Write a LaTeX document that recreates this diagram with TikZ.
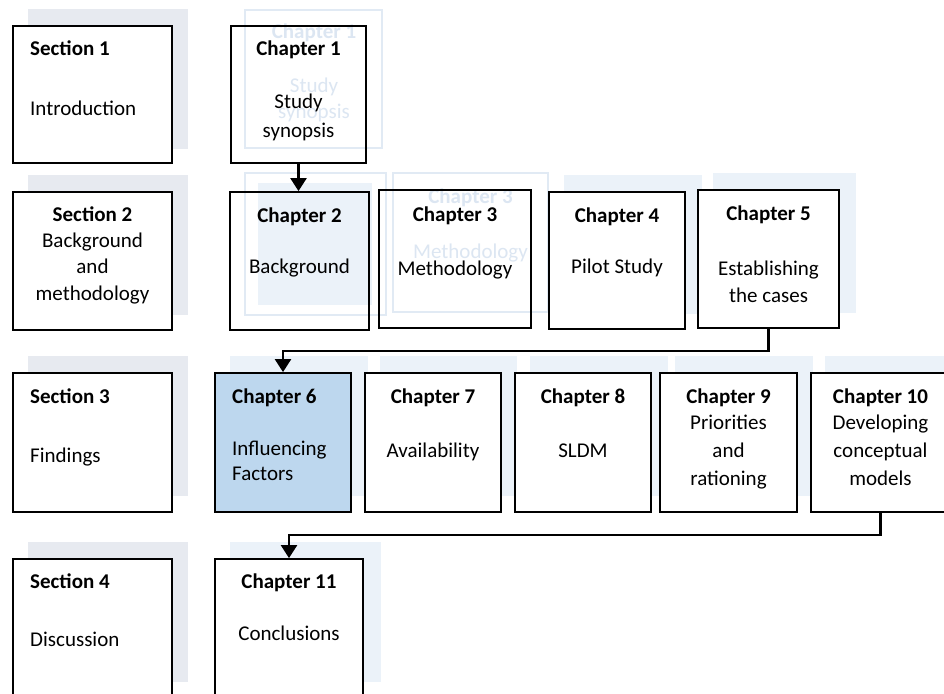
\documentclass[tikz,border=0pt]{standalone}
\usepackage{fontspec}
\setmainfont{Carlito}
\usetikzlibrary{arrows.meta}

\definecolor{secshade}{HTML}{E7EAF0}
\definecolor{chapshade}{HTML}{EBF2F9}
\definecolor{ghostline}{HTML}{E1EAF4}
\definecolor{ghosttext}{HTML}{DCE6F2}
\definecolor{focusfill}{HTML}{BDD7EE}

\pgfdeclarelayer{shade}
\pgfdeclarelayer{paper}
\pgfdeclarelayer{ghost}
\pgfsetlayers{shade,paper,ghost,main}

\tikzset{
  boxsty/.style={draw=black, line width=1.8pt, inner sep=0pt},
  txt/.style={anchor=base, inner sep=0pt, font=\fontsize{21}{27}\selectfont},
  ttl/.style={txt, font=\fontsize{21}{27}\selectfont\bfseries},
  lft/.style={anchor=base west},
  ghosttxt/.style={txt, text=ghosttext},
  ghostttl/.style={ttl, text=ghosttext},
  link/.style={line width=2.4pt, -{Triangle[width=16pt,length=13pt]}},
}

% box from (x1,y1) to (x2,y2), with a white sheet under it
\newcommand\secbox[6][]{%
  \node[boxsty,#1,minimum width={(#5-#3)*1pt},minimum height={(#6-#4)*1pt}]
    (#2) at ({(#3+#5)/2},{(#4+#6)/2}) {};
  \begin{pgfonlayer}{paper}
    \fill[white] (#2.south west) rectangle (#2.north east);
  \end{pgfonlayer}}
% shadow plate behind a box
\newcommand\plate[5]{%
  \begin{pgfonlayer}{shade}
    \fill[#1] (#2,#3) rectangle (#4,#5);
  \end{pgfonlayer}}
\newcommand\tx[4][]{\node[txt,#1] (#2) at (#3) {#4};}

\begin{document}
\begin{tikzpicture}[x=1pt,y=-1pt]
\useasboundingbox (0,0) rectangle (944,693);

% ---------- shadow plates ----------
\plate{secshade}{28}{9}{188}{149}
\plate{secshade}{28}{175}{188}{315}
\plate{chapshade}{564}{175}{702}{314}
\plate{chapshade}{713}{173}{856}{313}
\plate{secshade}{28}{356}{188}{496}
\plate{chapshade}{230}{356}{368}{496}
\plate{chapshade}{380}{356}{517}{496}
\plate{chapshade}{530}{356}{668}{496}
\plate{chapshade}{675}{356}{813}{496}
\plate{chapshade}{825}{356}{960}{496}
\plate{secshade}{28}{542}{188}{682}
\plate{chapshade}{230}{542}{381}{682}

% ---------- boxes ----------
\secbox{s1}{13}{26}{172}{163}
\secbox{c1}{231}{26}{366}{163}
\secbox{s2}{13}{192}{172}{330}
\secbox{c2}{230}{192}{369}{330}
\secbox{c3}{379}{190}{531}{328}
\secbox{c4}{549}{192}{685}{329}
\secbox{c5}{698}{190}{839}{328}
\secbox{s3}{13}{373}{172}{512}
\secbox[fill=focusfill]{c6}{215}{373}{351}{512}
\secbox{c7}{365}{373}{501}{512}
\secbox{c8}{515}{373}{651}{512}
\secbox{c9}{660}{373}{797}{512}
\secbox{c10}{811}{373}{950}{512}
\secbox{s4}{13}{559}{172}{720}
\secbox{c11}{215}{559}{363}{720}

% ---------- faint duplicated frames ----------
\begin{pgfonlayer}{ghost}
  \draw[ghostline, line width=1.5pt] (245,10) rectangle (382,148);
  \node[ghostttl] (g1a) at (314,39) {Chapter 1};
  \node[ghosttxt] (g1b) at (314,92) {Study};
  \node[ghosttxt] (g1c) at (314,118) {synopsis};
  \fill[chapshade] (258,183) rectangle (372,305);
  \draw[ghostline, line width=1.5pt] (245,173) rectangle (386,315);
  \draw[ghostline, line width=1.5pt] (393,173) rectangle (548,312);
  \node[ghostttl] (g3a) at (470.5,203) {Chapter 3};
  \node[ghosttxt] (g3b) at (470.5,258) {Methodology};
\end{pgfonlayer}

% ---------- texts ----------
\tx[ttl,lft]{s1a}{30,56}{Section 1}
\tx[lft]{s1b}{30,115}{Introduction}
\tx[ttl]{c1a}{298.5,56}{Chapter 1}
\tx{c1b}{298.5,108}{Study}
\tx{c1c}{298.5,137}{synopsis}

\tx[ttl]{s2a}{92.5,221}{Section 2}
\tx{s2b}{92.5,247}{Background}
\tx{s2c}{92.5,273}{and}
\tx{s2d}{92.5,300}{methodology}
\tx[ttl]{c2a}{299.5,222}{Chapter 2}
\tx{c2b}{299.5,273}{Background}
\tx[ttl]{c3a}{455,221}{Chapter 3}
\tx{c3b}{455,275}{Methodology}
\tx[ttl]{c4a}{617,222}{Chapter 4}
\tx{c4b}{617,273}{Pilot Study}
\tx[ttl]{c5a}{768.5,220}{Chapter 5}
\tx{c5b}{768.5,275}{Establishing}
\tx{c5c}{768.5,302}{the cases}

\tx[ttl,lft]{s3a}{30,403}{Section 3}
\tx[lft]{s3b}{30,462}{Findings}
\tx[ttl,lft]{c6a}{232,403}{Chapter 6}
\tx[lft]{c6b}{232,455}{Influencing}
\tx[lft]{c6c}{232,480}{Factors}
\tx[ttl]{c7a}{433,403}{Chapter 7}
\tx{c7b}{433,457}{Availability}
\tx[ttl]{c8a}{583,403}{Chapter 8}
\tx{c8b}{583,457}{SLDM}
\tx[ttl]{c9a}{728.5,403}{Chapter 9}
\tx{c9b}{728.5,429}{Priorities}
\tx{c9c}{728.5,457}{and}
\tx{c9d}{728.5,485}{rationing}
\tx[ttl]{c10a}{880.5,403}{Chapter 10}
\tx{c10b}{880.5,429}{Developing}
\tx{c10c}{880.5,457}{conceptual}
\tx{c10d}{880.5,485}{models}

\tx[ttl,lft]{s4a}{30,588}{Section 4}
\tx[lft]{s4b}{30,646}{Discussion}
\tx[ttl]{c11a}{289,588}{Chapter 11}
\tx{c11b}{289,640}{Conclusions}

% ---------- connectors ----------
\coordinate (r2) at (0,351);
\coordinate (r3) at (0,535);
\draw[link] (c1.south) -- (c1.south |- c2.north);
\draw[link] (c5.south) |- (c6.north |- r2) -- (c6.north);
\draw[link] (c10.south) |- (c11.north |- r3) -- (c11.north);
\end{tikzpicture}
\end{document}
